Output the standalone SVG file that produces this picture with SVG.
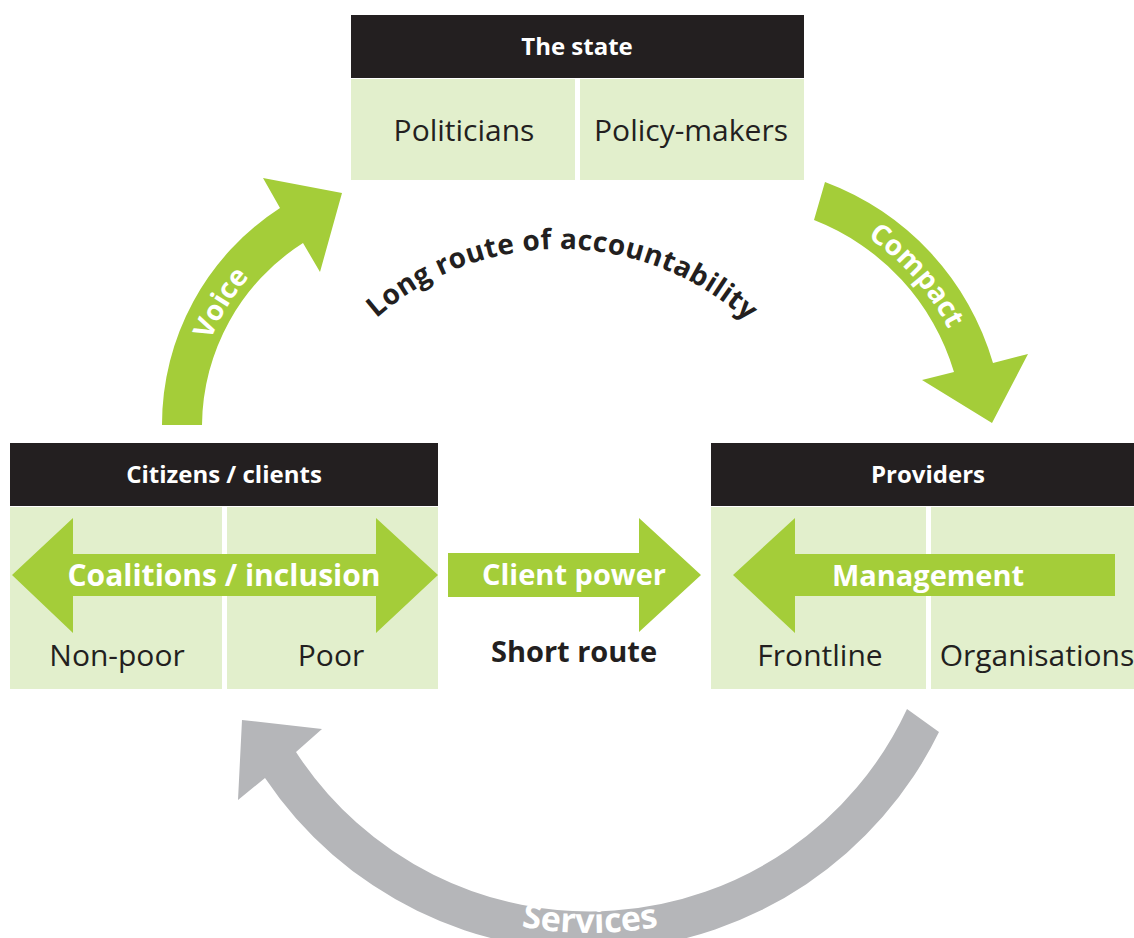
<svg xmlns="http://www.w3.org/2000/svg" xmlns:xlink="http://www.w3.org/1999/xlink" width="1134" height="938" viewBox="0 0 1134 938">
  <style>
    .hdr { fill: #231f20; }
    .cell { fill: #e2efcc; }
    .green { fill: #a4cd39; }
    .grey { fill: #b5b6b9; }
    .htxt { font-family: "Open Sans", "Noto Sans", sans-serif; font-weight: 700; font-size: 24px; fill: #ffffff; text-anchor: middle; }
    .ctxt { font-family: "Open Sans", "Noto Sans", sans-serif; font-weight: 400; font-size: 30px; fill: #231f20; text-anchor: middle; }
    .atxt { font-family: "Open Sans", "Noto Sans", sans-serif; font-weight: 700; font-size: 29px; fill: #ffffff; text-anchor: middle; }
    .dtxt { font-family: "Open Sans", "Noto Sans", sans-serif; font-weight: 700; font-size: 29px; fill: #231f20; text-anchor: middle; }
  </style>
  <defs>
    <path id="p-long" d="M282,527 A278,278 0 0 1 838,527"/>
    <path id="p-voice" d="M194,425 A226,226 0 0 1 420,199"/>
    <path id="p-compact" d="M730,195 A245,245 0 0 1 975,440"/>
    <path id="p-services" d="M213,556 A377,377 0 0 0 967,556"/>
  </defs>

  <rect width="1134" height="938" fill="#ffffff"/>

  <!-- The state -->
  <g id="state">
    <rect class="hdr" x="351" y="15" width="453" height="63"/>
    <rect class="cell" x="351" y="79" width="224" height="101"/>
    <rect class="cell" x="580" y="79" width="224" height="101"/>
    <text class="htxt" x="577" y="55">The state</text>
    <text class="ctxt" x="464" y="141">Politicians</text>
    <text class="ctxt" x="691" y="141">Policy-makers</text>
  </g>

  <!-- Citizens / clients -->
  <g id="citizens">
    <rect class="hdr" x="10" y="443" width="428" height="63"/>
    <rect class="cell" x="10" y="507" width="212" height="182"/>
    <rect class="cell" x="227" y="507" width="211" height="182"/>
    <text class="htxt" x="224" y="483">Citizens / clients</text>
    <path class="green" d="M12,575 L73,518 L73,554 L376,554 L376,518 L438,575 L376,633 L376,596 L73,596 L73,633 Z"/>
    <text class="atxt" x="224" y="586" style="font-size:30px">Coalitions / inclusion</text>
    <text class="ctxt" x="117" y="666">Non-poor</text>
    <text class="ctxt" x="331" y="666">Poor</text>
  </g>

  <!-- Providers -->
  <g id="providers">
    <rect class="hdr" x="711" y="443" width="423" height="63"/>
    <rect class="cell" x="711" y="507" width="215" height="182"/>
    <rect class="cell" x="931" y="507" width="203" height="182"/>
    <text class="htxt" x="928" y="483">Providers</text>
    <path class="green" d="M733,575 L795,518 L795,554 L1115,554 L1115,596 L795,596 L795,633 Z"/>
    <text class="atxt" x="928" y="586">Management</text>
    <text class="ctxt" x="820" y="666">Frontline</text>
    <text class="ctxt" x="1037" y="666">Organisations</text>
  </g>

  <!-- Connectors -->
  <g id="connectors">
    <g id="voice">
      <path class="green" d="M162,425 A258,258 0 0 1 280,208 L263,178 L342,193 L320,272 L303,243 A218,218 0 0 0 202,425 Z"/>
      <text class="atxt" style="font-size:28px"><textPath xlink:href="#p-voice" href="#p-voice" startOffset="35%">Voice</textPath></text>
    </g>
    <g id="compact">
      <path class="green" d="M825,182 A275,275 0 0 1 993,363 L1028,354 L992,423 L922,380 L954,372 A235,235 0 0 0 814,220 Z"/>
      <text class="atxt" style="font-size:28px"><textPath xlink:href="#p-compact" href="#p-compact" startOffset="54%">Compact</textPath></text>
    </g>
    <g id="client-power">
      <path class="green" d="M448,553 L639,553 L639,518 L701,575 L639,632 L639,597 L448,597 Z"/>
      <text class="atxt" x="574" y="585">Client power</text>
    </g>
    <g id="services">
      <path class="grey" d="M907,709 A350,350 0 0 1 296,752 L322,729 L242,720 L238,800 L265,778 A390,390 0 0 0 939,732 Z"/>
      <text class="atxt" style="font-size:34px"><textPath xlink:href="#p-services" href="#p-services" startOffset="50%">Services</textPath></text>
    </g>
  </g>

  <!-- Route labels -->
  <g id="labels">
    <text class="dtxt" style="font-size:28px" letter-spacing="0.4"><textPath xlink:href="#p-long" href="#p-long" startOffset="50.3%">Long route of accountability</textPath></text>
    <text class="dtxt" x="574" y="662">Short route</text>
  </g>
</svg>
